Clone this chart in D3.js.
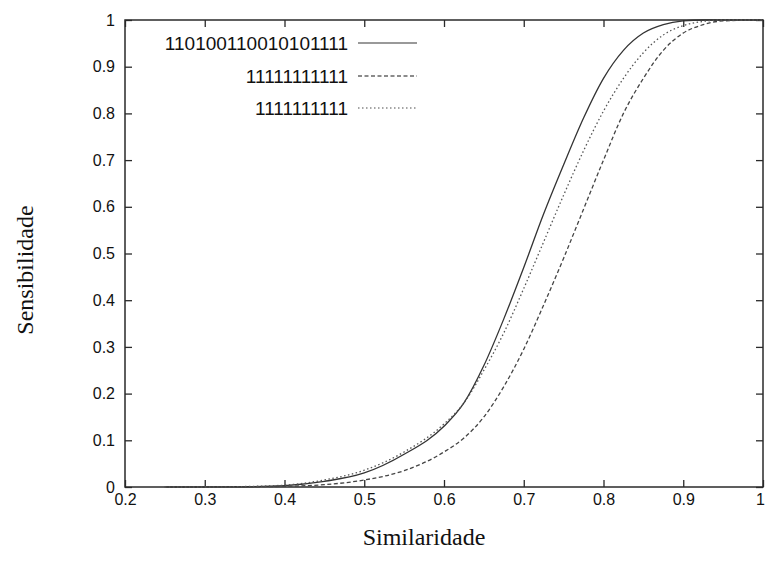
<!DOCTYPE html>
<html>
<head>
<meta charset="utf-8">
<script src="https://cdn.jsdelivr.net/npm/d3@7"></script>
<style>
  html, body { margin: 0; padding: 0; background: #fff; }
  svg { display: block; }
</style>
</head>
<body>
<svg id="chart" width="765" height="561"></svg>
<script>
// ---- data ----
const xValues = [0.25, 0.3, 0.35, 0.4, 0.45, 0.5, 0.55, 0.6, 0.625, 0.65, 0.675, 0.7, 0.725, 0.75, 0.775, 0.8, 0.825, 0.85, 0.875, 0.9, 0.925, 0.95, 1.0];
const seriesNames = ["110100110010101111", "11111111111", "1111111111"];
const solidValues  = [0, 0, 0.0005, 0.003, 0.012, 0.03, 0.07, 0.13, 0.18, 0.26, 0.36, 0.47, 0.585, 0.69, 0.79, 0.875, 0.935, 0.972, 0.99, 0.998, 1, 1, 1];
const dashedValues = [0, 0, 0.0003, 0.0015, 0.005, 0.015, 0.035, 0.075, 0.105, 0.15, 0.215, 0.295, 0.39, 0.49, 0.595, 0.7, 0.8, 0.875, 0.935, 0.972, 0.99, 0.998, 1];
const dottedValues = [0, 0, 0.001, 0.004, 0.015, 0.036, 0.075, 0.135, 0.18, 0.25, 0.33, 0.425, 0.525, 0.625, 0.72, 0.805, 0.875, 0.93, 0.968, 0.988, 0.997, 1, 1];
const xTicks = [0.2, 0.3, 0.4, 0.5, 0.6, 0.7, 0.8, 0.9, 1];
const xTickLabels = ["0.2", "0.3", "0.4", "0.5", "0.6", "0.7", "0.8", "0.9", "1"];
const yTicks = [0, 0.1, 0.2, 0.3, 0.4, 0.5, 0.6, 0.7, 0.8, 0.9, 1];
const yTickLabels = ["0", "0.1", "0.2", "0.3", "0.4", "0.5", "0.6", "0.7", "0.8", "0.9", "1"];
const xTitle = "Similaridade";
const yTitle = "Sensibilidade";

// ---- layout ----
const mLeft = 125, mRight = 763, mTop = 20, mBottom = 487;
const svg = d3.select("#chart");
const x = d3.scaleLinear().domain([0.2, 1]).range([mLeft, mRight]);
const y = d3.scaleLinear().domain([0, 1]).range([mBottom, mTop]);
const frameColor = "#2a2a2a";
const tickFont = "'Liberation Sans', Arial, Helvetica, sans-serif";

function styleAxis(g, showText) {
  g.select(".domain").remove();
  g.selectAll(".tick line").attr("stroke", frameColor).attr("stroke-width", 1.3);
  g.selectAll(".tick text")
    .attr("fill", "#111")
    .style("font-family", tickFont)
    .style("font-size", "16px");
  if (!showText) g.selectAll(".tick text").remove();
}

svg.append("g").attr("transform", `translate(0,${mBottom})`)
  .call(d3.axisBottom(x).tickValues(xTicks).tickSize(-7).tickPadding(7)
    .tickFormat((d, i) => xTickLabels[i]))
  .call(g => styleAxis(g, true))
  .call(g => g.selectAll(".tick text").filter(d => d === 1).attr("dx", "-3"));
svg.append("g").attr("transform", `translate(0,${mTop})`)
  .call(d3.axisTop(x).tickValues(xTicks).tickSize(-7))
  .call(g => styleAxis(g, false));
svg.append("g").attr("transform", `translate(${mLeft},0)`)
  .call(d3.axisLeft(y).tickValues(yTicks).tickSize(-7).tickPadding(10)
    .tickFormat((d, i) => yTickLabels[i]))
  .call(g => styleAxis(g, true));
svg.append("g").attr("transform", `translate(${mRight},0)`)
  .call(d3.axisRight(y).tickValues(yTicks).tickSize(-7))
  .call(g => styleAxis(g, false));

// frame
svg.append("rect")
  .attr("x", mLeft).attr("y", mTop)
  .attr("width", mRight - mLeft).attr("height", mBottom - mTop)
  .attr("fill", "none").attr("stroke", frameColor).attr("stroke-width", 1.5);

// ---- curves ----
const series = [
  { name: seriesNames[0], values: solidValues,  dash: null,      color: "#333", legendColor: "#777" },
  { name: seriesNames[1], values: dashedValues, dash: "4,2.5",   color: "#444", legendColor: "#666" },
  { name: seriesNames[2], values: dottedValues, dash: "1.5,2.5", color: "#555", legendColor: "#888" }
];
const line = d3.line()
  .x((d, i) => x(xValues[i]))
  .y(d => y(d))
  .curve(d3.curveMonotoneX);

svg.append("g").selectAll("path").data(series).join("path")
  .attr("d", s => line(s.values))
  .attr("fill", "none")
  .attr("stroke", s => s.color)
  .attr("stroke-width", 1.3)
  .attr("stroke-dasharray", s => s.dash);

// ---- legend ----
const legendY = [43, 76, 108];
const lg = svg.append("g").selectAll("g").data(series).join("g")
  .attr("transform", (s, i) => `translate(0,${legendY[i]})`);
lg.append("text")
  .attr("x", 348).attr("y", 0).attr("dy", "0.36em")
  .attr("text-anchor", "end")
  .attr("fill", "#111")
  .style("font-family", tickFont)
  .style("font-size", "19px")
  .text(s => s.name);
lg.append("line")
  .attr("x1", 358).attr("x2", 417).attr("y1", 0).attr("y2", 0)
  .attr("stroke", s => s.legendColor)
  .attr("stroke-width", 1.4)
  .attr("stroke-dasharray", s => s.dash);

// ---- titles ----
svg.append("text")
  .attr("x", 424).attr("y", 545)
  .attr("text-anchor", "middle")
  .style("font-family", "'Liberation Serif', 'Times New Roman', serif")
  .style("font-size", "24px")
  .attr("fill", "#111")
  .text(xTitle);
svg.append("text")
  .attr("transform", "translate(33,270) rotate(-90)")
  .attr("text-anchor", "middle")
  .style("font-family", "'Liberation Serif', 'Times New Roman', serif")
  .style("font-size", "24px")
  .attr("fill", "#111")
  .text(yTitle);
</script>
</body>
</html>
